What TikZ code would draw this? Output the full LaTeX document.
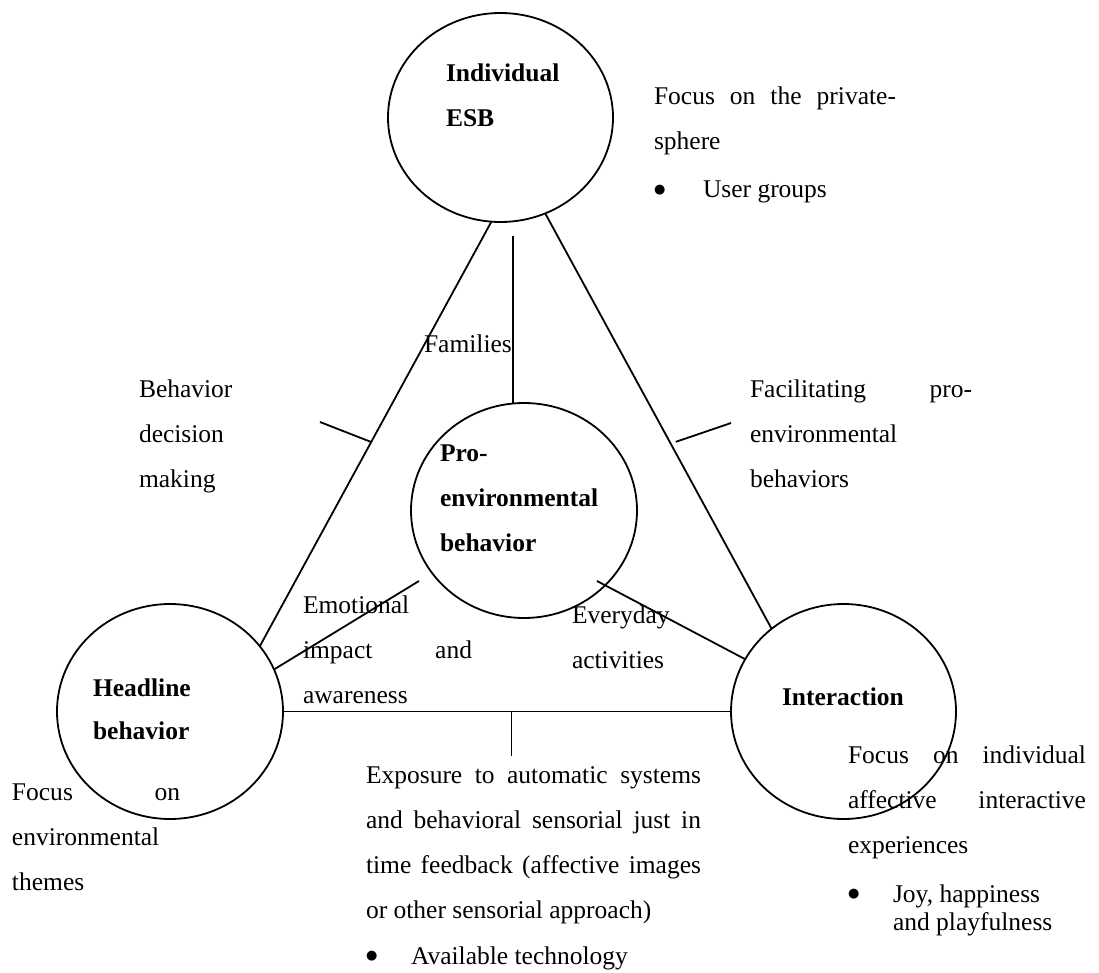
\documentclass[tikz,border=0pt]{standalone}
\usepackage{fontspec}
\setmainfont{Liberation Serif}
\newfontfamily\symfont{DejaVu Sans}
\usetikzlibrary{shapes.geometric}
% list bullet used in the side notes
\newcommand\notebullet{\raisebox{4.5pt}{\symfont\fontsize{13}{0}\selectfont ●}}
\begin{document}
\begin{tikzpicture}[x=1pt,y=-1pt,
  ring/.style={draw, ellipse, line width=1.8pt, inner sep=0pt, outer sep=0pt},
  link/.style={line width=1.8pt},
  txt/.style={inner sep=0pt, outer sep=0pt, anchor=base west,
    font=\fontsize{25.5}{45}\selectfont},
  title/.style={txt, font=\fontsize{25.5}{45}\selectfont\bfseries}]
\useasboundingbox (0,0) rectangle (1099,973);

% the four spheres
\node[ring, minimum width=225pt, minimum height=209pt] (esb)   at (500.5,117.5) {};
\node[ring, minimum width=226pt, minimum height=215pt] (pro)   at (524,510.5) {};
\node[ring, minimum width=226pt, minimum height=215pt] (head)  at (170,711.5) {};
\node[ring, minimum width=225pt, minimum height=215pt] (inter) at (843.5,711.5) {};

% titles inside the spheres
\node[title] (esbt)   at (446,82)  {\vtop{\hbox{Individual}\hbox{ESB}}};
\node[title] (prot)   at (440,461) {\vtop{\hbox{Pro-}\hbox{environmental}\hbox{behavior}}};
\node[title] (headt)  at (93,696)  {\vtop{\hbox{Headline}\vskip-2pt\hbox{behavior}}};
\node[title] (intert) at (782,705) {Interaction};

% free ends of the short pointers
\coordinate (tickLend) at (320,422);
\coordinate (tickRend) at (731,423);
\coordinate (famtop)   at (513,236);
\coordinate (emoend)   at (419,581);
\coordinate (evstart)  at (597,581);
\coordinate (tickBend) at (511.5,756);

% triangle sides and spokes
\draw[link] (esb.265.4) -- coordinate[pos=0.519] (tickL) (head.36.5);
\draw[link] (tickL) -- (tickLend);
\draw[link] (esb.295) -- coordinate[pos=0.55] (tickR) (inter.131);
\draw[link] ([xshift=6pt]tickR) -- (tickRend);
\draw[link] (famtop) -- (famtop |- pro.north);
\draw[link] (head.22.3) -- (emoend);
\draw[link] (evstart) -- (inter.152.2);
\draw[link] (head.east) -- (inter.west);
\draw[link] (tickBend |- head.east) -- (tickBend);

% labels
\node[txt] (privfocus) at (654,105) {\vtop{%
  \hbox to 242pt{Focus\hfill on\hfill the\hfill private-}%
  \hbox{sphere}\vskip3pt
  \hbox{\hbox to 49pt{\notebullet\hfill}User groups}}};
\node[txt] (families) at (424,352) {Families};
\node[txt] (decision) at (139,397) {\vtop{\hbox{Behavior}\hbox{decision}\hbox{making}}};
\node[txt] (facil) at (750,397) {\vtop{%
  \hbox to 222pt{Facilitating\hfill pro-}%
  \hbox{environmental}\hbox{behaviors}}};
\node[txt] (emotion) at (303,613) {\vtop{%
  \hbox{Emotional}\hbox to 169pt{impact\hfill and}\hbox{awareness}}};
\node[txt] (everyday) at (572,623) {\vtop{\hbox{Everyday}\hbox{activities}}};
\node[txt] (envfocus) at (12,800) {\vtop{%
  \hbox to 168pt{Focus\hfill on}\hbox{environmental}\hbox{themes}}};
\node[txt] (indfocus) at (848,763) {\vtop{%
  \hbox to 238pt{Focus\hfill on\hfill individual}%
  \hbox to 238pt{affective\hfill interactive}%
  \hbox{experiences}\vskip4pt
  \hbox{\hbox to 45pt{\notebullet\hfill}\vtop{\hbox{Joy, happiness}\vskip-17pt\hbox{and playfulness}}}}};
\node[txt] (exposure) at (366,783) {\vtop{%
  \hbox to 335pt{Exposure\hfill to\hfill automatic\hfill systems}%
  \hbox to 335pt{and\hfill behavioral\hfill sensorial\hfill just\hfill in}%
  \hbox to 335pt{time\hfill feedback\hfill (affective\hfill images}%
  \hbox{or other sensorial approach)}\vskip1pt
  \hbox{\hbox to 45pt{\notebullet\hfill}Available technology}}};
\end{tikzpicture}
\end{document}
